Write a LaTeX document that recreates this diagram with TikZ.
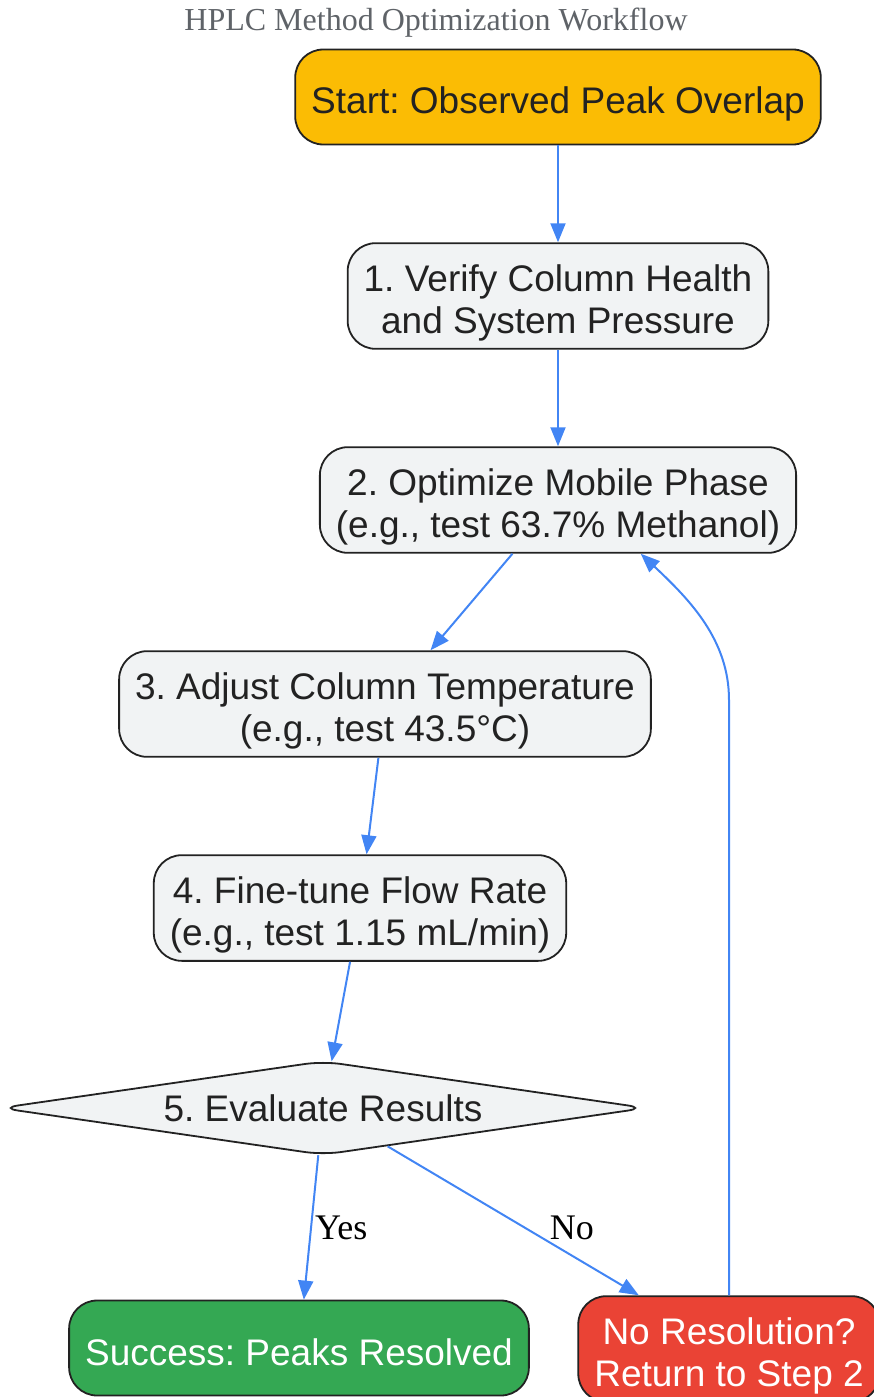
\documentclass[tikz,border=0pt]{standalone}
\usepackage{fontspec}
\setmainfont{Liberation Serif}
\setsansfont{Liberation Sans}
\usetikzlibrary{shapes.geometric,arrows.meta}
\definecolor{cStart}{HTML}{FBBC04}
\definecolor{cBox}{HTML}{F1F3F4}
\definecolor{cOk}{HTML}{34A853}
\definecolor{cFail}{HTML}{EA4335}
\definecolor{cArrow}{HTML}{4285F4}
\definecolor{cLine}{HTML}{222222}
\definecolor{cTitle}{HTML}{5F6368}
\frenchspacing
\begin{document}
\begin{tikzpicture}[x=1pt,y=1pt]
			\tikzset{bx/.style={draw=cLine,line width=1.8pt,fill=cBox,text=cLine,font=\sffamily\fontsize{37}{42}\selectfont,align=center},
				b/.style={bx,rectangle,rounded corners=28pt,inner xsep=16pt,inner ysep=8pt,text height=40pt,minimum height=95pt},
				bb/.style={b,text height=82pt},
				d/.style={bx,diamond,aspect=7,rounded corners=18pt,inner sep=0pt,minimum width=646pt,minimum height=94pt},
				arr/.style={draw=cArrow,line width=2pt,-{Triangle[length=19pt,width=15pt]}},
				lbl/.style={font=\fontsize{36}{40}\selectfont,inner sep=3pt}}
			\useasboundingbox(0,0)rectangle(873,-1397);
			\path(436,-23)node[text=cTitle,font=\fontsize{32}{36}\selectfont](title){HPLC Method Optimization Workflow};
			\path(558,-97)node[b,fill=cStart](start){Start: Observed Peak Overlap};
			\path(558,-296)node[bb](s1){1. Verify Column Health\\and System Pressure};
			\path(558,-500)node[bb](s2){2. Optimize Mobile Phase\\(e.g., test 63.7\% Methanol)};
			\path(385,-704)node[bb](s3){3. Adjust Column Temperature\\(e.g., test 43.5°C)};
			\path(360,-908)node[bb](s4){4. Fine-tune Flow Rate\\(e.g., test 1.15 mL/min)};
			\path(323,-1108)node[d](eval){5. Evaluate Results};
			\path(299,-1348)node[b,fill=cOk,text=white,text height=36pt](ok){Success: Peaks Resolved};
			\path(729,-1349)node[bb,fill=cFail,text=white](fail){No Resolution?\\Return to Step 2};
			\foreach \x/\y in {
				start/s1,s1/s2,
				s2/s3,s3/s4,
				s4/eval}
			\draw[arr](\x)--(\y);
			%%Yes / No
			\draw[arr](eval)--(ok)node[lbl,pos=0.5,right]{Yes};
			\draw[arr](eval)--(fail)node[lbl,pos=0.55,right,xshift=20pt]{No};
			%%back to step 2
			\draw[arr](fail.north)--(fail.north|-0,-700)..controls(fail.north|-0,-640)and(690,-600)..(s2.-33);
		\end{tikzpicture}
\end{document}
